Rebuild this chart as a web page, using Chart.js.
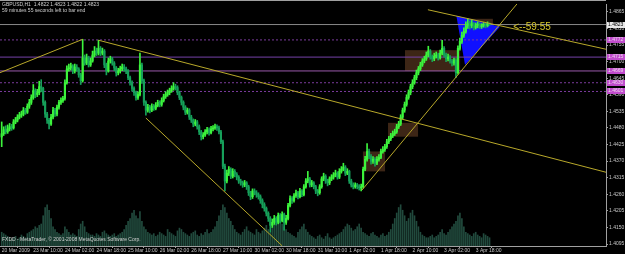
<!DOCTYPE html>
<html>
<head>
<meta charset="utf-8">
<script src="https://cdn.jsdelivr.net/npm/chart.js@4.4.1/dist/chart.umd.min.js"></script>
<style>
  html, body { margin: 0; padding: 0; background: #000; }
  #wrap { width: 625px; height: 254px; }
</style>
</head>
<body>
<div id="wrap"><canvas id="chart" width="625" height="254"></canvas></div>
<script>
// GBPUSD H1, one bar per hour, 20 Mar 2009 20:00 .. 3 Apr 2009
const FIRST_OPEN = 1.4450
const CLOSE = [
  1.4461,1.4474,1.4467,1.4477,1.4484,1.4480,1.4500,1.4506,1.4516,1.4523,
  1.4526,1.4539,1.4532,1.4552,1.4565,1.4581,1.4604,1.4591,1.4597,1.4617,
  1.4611,1.4565,1.4526,1.4506,1.4493,1.4516,1.4539,1.4526,1.4549,1.4565,
  1.4571,1.4578,1.4630,1.4676,1.4679,1.4686,1.4669,1.4682,1.4676,1.4656,
  1.4637,1.4712,1.4695,1.4712,1.4689,1.4702,1.4722,1.4735,1.4728,1.4744,
  1.4728,1.4735,1.4689,1.4669,1.4702,1.4709,1.4695,1.4679,1.4663,1.4669,
  1.4676,1.4682,1.4676,1.4669,1.4647,1.4630,1.4611,1.4597,1.4581,1.4591,
  1.4689,1.4637,1.4565,1.4539,1.4549,1.4539,1.4552,1.4545,1.4555,1.4565,
  1.4558,1.4571,1.4584,1.4591,1.4597,1.4604,1.4611,1.4617,1.4614,1.4597,
  1.4581,1.4565,1.4549,1.4532,1.4539,1.4516,1.4506,1.4493,1.4500,1.4484,
  1.4467,1.4451,1.4457,1.4467,1.4474,1.4464,1.4477,1.4480,1.4484,1.4480,
  1.4467,1.4434,1.4353,1.4304,1.4330,1.4343,1.4320,1.4336,1.4327,1.4317,
  1.4304,1.4298,1.4291,1.4298,1.4285,1.4265,1.4252,1.4271,1.4265,1.4259,
  1.4252,1.4239,1.4226,1.4213,1.4197,1.4180,1.4157,1.4167,1.4180,1.4167,
  1.4190,1.4173,1.4193,1.4167,1.4180,1.4223,1.4246,1.4239,1.4255,1.4265,
  1.4252,1.4271,1.4259,1.4285,1.4304,1.4311,1.4291,1.4298,1.4285,1.4271,
  1.4265,1.4285,1.4311,1.4320,1.4304,1.4298,1.4311,1.4317,1.4324,1.4330,
  1.4317,1.4336,1.4343,1.4350,1.4330,1.4336,1.4304,1.4291,1.4285,1.4291,
  1.4285,1.4281,1.4285,1.4343,1.4376,1.4402,1.4386,1.4369,1.4376,1.4363,
  1.4376,1.4382,1.4402,1.4408,1.4418,1.4434,1.4444,1.4454,1.4461,1.4467,
  1.4484,1.4493,1.4516,1.4539,1.4558,1.4581,1.4597,1.4617,1.4630,1.4647,
  1.4663,1.4676,1.4689,1.4702,1.4709,1.4722,1.4735,1.4715,1.4709,1.4718,
  1.4722,1.4712,1.4728,1.4744,1.4722,1.4709,1.4715,1.4702,1.4695,1.4705,
  1.4663,1.4744,1.4767,1.4787,1.4800,1.4819,1.4826,1.4819,1.4826,1.4813,
  1.4819,1.4823,1.4816,1.4819,1.4823,1.4819,1.4826,1.4823,
]
const HIGH = [
  1.4500,1.4484,1.4487,1.4490,1.4495,1.4492,1.4508,1.4515,1.4524,1.4532,
  1.4536,1.4548,1.4545,1.4560,1.4575,1.4590,1.4624,1.4610,1.4608,1.4635,
  1.4640,1.4615,1.4570,1.4532,1.4512,1.4525,1.4548,1.4545,1.4556,1.4572,
  1.4580,1.4585,1.4640,1.4686,1.4692,1.4695,1.4690,1.4692,1.4690,1.4680,
  1.4662,1.4774,1.4722,1.4725,1.4718,1.4712,1.4735,1.4750,1.4745,1.4771,
  1.4750,1.4745,1.4740,1.4695,1.4712,1.4718,1.4714,1.4700,1.4684,1.4678,
  1.4685,1.4692,1.4690,1.4682,1.4674,1.4652,1.4636,1.4616,1.4602,1.4600,
  1.4728,1.4695,1.4642,1.4570,1.4558,1.4555,1.4560,1.4558,1.4564,1.4572,
  1.4570,1.4580,1.4592,1.4600,1.4606,1.4612,1.4620,1.4630,1.4625,1.4620,
  1.4602,1.4586,1.4570,1.4554,1.4546,1.4544,1.4522,1.4510,1.4508,1.4505,
  1.4490,1.4472,1.4465,1.4475,1.4482,1.4480,1.4485,1.4488,1.4493,1.4490,
  1.4486,1.4472,1.4440,1.4360,1.4340,1.4352,1.4348,1.4345,1.4342,1.4332,
  1.4322,1.4310,1.4304,1.4306,1.4302,1.4290,1.4270,1.4278,1.4278,1.4272,
  1.4265,1.4258,1.4245,1.4232,1.4218,1.4202,1.4186,1.4178,1.4190,1.4186,
  1.4198,1.4196,1.4202,1.4198,1.4190,1.4230,1.4255,1.4252,1.4262,1.4274,
  1.4270,1.4280,1.4276,1.4292,1.4312,1.4336,1.4316,1.4306,1.4302,1.4290,
  1.4276,1.4292,1.4318,1.4330,1.4325,1.4310,1.4318,1.4325,1.4332,1.4340,
  1.4335,1.4345,1.4352,1.4363,1.4355,1.4345,1.4340,1.4310,1.4298,1.4298,
  1.4296,1.4292,1.4294,1.4350,1.4386,1.4428,1.4410,1.4392,1.4385,1.4382,
  1.4385,1.4392,1.4410,1.4418,1.4426,1.4442,1.4452,1.4462,1.4470,1.4476,
  1.4492,1.4502,1.4524,1.4546,1.4566,1.4590,1.4606,1.4625,1.4640,1.4655,
  1.4672,1.4684,1.4698,1.4710,1.4718,1.4732,1.4751,1.4740,1.4722,1.4728,
  1.4732,1.4728,1.4738,1.4771,1.4750,1.4728,1.4725,1.4720,1.4708,1.4712,
  1.4710,1.4752,1.4778,1.4798,1.4812,1.4832,1.4842,1.4835,1.4838,1.4830,
  1.4828,1.4832,1.4828,1.4826,1.4830,1.4828,1.4832,1.4828,
]
const LOW = [
  1.4418,1.4455,1.4460,1.4462,1.4470,1.4472,1.4476,1.4494,1.4500,1.4510,
  1.4515,1.4520,1.4525,1.4528,1.4545,1.4558,1.4575,1.4580,1.4584,1.4590,
  1.4600,1.4555,1.4515,1.4495,1.4477,1.4488,1.4510,1.4518,1.4520,1.4542,
  1.4558,1.4565,1.4572,1.4625,1.4668,1.4672,1.4660,1.4662,1.4668,1.4648,
  1.4624,1.4632,1.4688,1.4690,1.4682,1.4684,1.4698,1.4716,1.4720,1.4722,
  1.4720,1.4722,1.4680,1.4656,1.4665,1.4695,1.4688,1.4670,1.4652,1.4656,
  1.4662,1.4670,1.4668,1.4660,1.4640,1.4622,1.4602,1.4588,1.4572,1.4575,
  1.4586,1.4628,1.4555,1.4522,1.4532,1.4530,1.4534,1.4538,1.4540,1.4550,
  1.4550,1.4552,1.4566,1.4578,1.4585,1.4590,1.4598,1.4605,1.4606,1.4590,
  1.4574,1.4556,1.4540,1.4524,1.4526,1.4508,1.4498,1.4484,1.4487,1.4476,
  1.4458,1.4440,1.4444,1.4452,1.4460,1.4456,1.4460,1.4470,1.4475,1.4472,
  1.4460,1.4428,1.4345,1.4271,1.4298,1.4322,1.4312,1.4314,1.4318,1.4308,
  1.4296,1.4290,1.4283,1.4285,1.4276,1.4256,1.4242,1.4246,1.4258,1.4250,
  1.4244,1.4230,1.4215,1.4204,1.4188,1.4170,1.4135,1.4150,1.4160,1.4158,
  1.4162,1.4165,1.4168,1.4141,1.4160,1.4175,1.4218,1.4230,1.4234,1.4250,
  1.4245,1.4248,1.4252,1.4255,1.4280,1.4298,1.4284,1.4285,1.4278,1.4262,
  1.4255,1.4260,1.4280,1.4305,1.4296,1.4288,1.4292,1.4305,1.4310,1.4318,
  1.4310,1.4312,1.4330,1.4338,1.4322,1.4325,1.4296,1.4284,1.4278,1.4280,
  1.4278,1.4274,1.4271,1.4280,1.4338,1.4370,1.4378,1.4360,1.4362,1.4353,
  1.4358,1.4370,1.4378,1.4396,1.4402,1.4412,1.4428,1.4438,1.4448,1.4455,
  1.4462,1.4478,1.4488,1.4510,1.4532,1.4552,1.4575,1.4590,1.4610,1.4625,
  1.4640,1.4656,1.4670,1.4684,1.4696,1.4704,1.4716,1.4708,1.4700,1.4703,
  1.4712,1.4705,1.4708,1.4722,1.4715,1.4700,1.4702,1.4695,1.4686,1.4688,
  1.4647,1.4658,1.4738,1.4760,1.4780,1.4794,1.4810,1.4808,1.4812,1.4805,
  1.4808,1.4812,1.4810,1.4810,1.4814,1.4812,1.4815,1.4820,
]
const VOLUME = [
  100,90,80,70,60, 50,60,70,50,60,80,70,60,90,100, 110,120,140,130,150,160,
  220,280,300,260,200, 140,120,100,90,80,90,140,120,100,80,90,80,70,
  120,160,180,140,100,90,80, 80,70,90,80,70,100,110,90,80,70,80,90,70,80,90,
  100,120,150,180,200,240,260,220,200,250,180,140,120,100,90,
  80,90,70,80,100,90,80,70,120,100,90,80,70,110,130,120,100,90,80,70,90,100,110,80,70,90,80,100,120,90,
  100,120,140,180,220,260,300,280,240,200,180,150,120,100,90,80,100,120,140,110,
  100,90,80,120,100,90,110,130,150,120,100,140,160,180,200,180,160,140,120,100,90,
  80,70,60,100,120,140,160,120,100,80,70,60,50,70,80,60,50,70,90,60,50,60,70,80,
  90,100,120,140,160,150,130,110,120,140,160,130,100,90,80,70,90,100,80,70,60,80,90,70,80,
  100,120,160,200,240,280,300,260,220,180,200,240,260,220,180,140,100,80,70,60,
  60,70,80,60,70,80,100,120,90,80,100,120,140,160,180,220,240,200,140,100,
  90,80,70,90,100,80,70,60,90,80,70,60,
]
const TIME_TICKS = [0, 16, 32, 48, 64, 80, 96, 112, 128, 144, 160, 176, 192, 208, 224, 240]
const TIME_LABELS = [
  '20 Mar 2009', '23 Mar 10:00', '24 Mar 02:00', '24 Mar 18:00', '25 Mar 10:00',
  '26 Mar 02:00', '26 Mar 18:00', '27 Mar 10:00', '30 Mar 02:00', '30 Mar 18:00',
  '31 Mar 10:00', '1 Apr 02:00', '1 Apr 18:00', '2 Apr 10:00', '3 Apr 02:00', '3 Apr 18:00',
]
const PRICE_TICKS = [
  1.4095, 1.4150, 1.4205, 1.4260, 1.4315, 1.4370, 1.4425, 1.4480,
  1.4535, 1.4590, 1.4645, 1.4700, 1.4755, 1.4810, 1.4865,
]
const BID = 1.4823
const LEVELS = [1.4772, 1.4715, 1.4669, 1.4630, 1.4601]
// trend lines: [bar, price] pairs
const TRENDLINES = [
  [[-1, 1.4663], [41, 1.4774]],
  [[49, 1.4771], [306, 1.4333]],
  [[73, 1.4513], [142, 1.4089]],
  [[182.4, 1.4274], [262, 1.4900]],
  [[215.8, 1.4872], [306, 1.4741]],
]
// rectangles: [bar from, bar to, price top, price bottom]
const RECTS = [
  [204.2, 232.1, 1.4738, 1.4669],
  [236.1, 248.7, 1.4842, 1.4819],
  [195.6, 210.8, 1.4497, 1.4451],
  [182.9, 194.1, 1.4402, 1.4336],
]
const TRIANGLE = [[230.2, 1.4852], [252.3, 1.4816], [234.6, 1.4689]]
const COUNTDOWN = '<--59:55'

// view window
const X_MIN = -0.86
const X_MAX = 305.97
const Y_MIN = 1.40885
const Y_MAX = 1.48911

const FONT = 'Liberation Sans'
const UP = '#3cf43c'
const DOWN = '#16a05a'
const LEVEL_DASH = [[2, 2], [], [], [2, 2], [2, 2]]
const LEVEL_COLOR = ['#7a3a9c', '#7442a8', '#9a5aaa', '#7a3a9c', '#7a3a9c']

function buildCandles() {
  const wicks = []
  const bodies = []
  const colors = []
  CLOSE.forEach((close, i) => {
    const open = i === 0 ? FIRST_OPEN : CLOSE[i - 1]
    wicks.push({ x: i, y: [LOW[i], HIGH[i]] })
    bodies.push({ x: i, y: [open, close] })
    colors.push(close >= open ? UP : DOWN)
  })
  return { wicks, bodies, colors }
}

const overlay = {
  id: 'overlay',
  beforeDraw(chart) {
    const { ctx, width, height } = chart
    ctx.save()
    ctx.fillStyle = '#000'
    ctx.fillRect(0, 0, width, height)
    ctx.restore()
  },
  beforeDatasetsDraw(chart) {
    const { ctx, chartArea } = chart
    const x = chart.scales.x
    const y = chart.scales.y
    ctx.save()
    ctx.beginPath()
    ctx.rect(chartArea.left, chartArea.top, chartArea.width, chartArea.height)
    ctx.clip()
    ctx.fillStyle = '#3d2616'
    RECTS.forEach(([x0, x1, p0, p1]) => {
      const left = x.getPixelForValue(x0)
      const top = y.getPixelForValue(p0)
      ctx.fillRect(left, top, x.getPixelForValue(x1) - left, y.getPixelForValue(p1) - top)
    })
    ctx.fillStyle = '#1010ff'
    ctx.beginPath()
    TRIANGLE.forEach(([b, p], i) => {
      const px = x.getPixelForValue(b)
      const py = y.getPixelForValue(p)
      if (i === 0) ctx.moveTo(px, py)
      else ctx.lineTo(px, py)
    })
    ctx.closePath()
    ctx.fill()
    ctx.restore()
  },
  afterDraw(chart) {
    const { ctx, chartArea } = chart
    const x = chart.scales.x
    const y = chart.scales.y
    ctx.save()
    ctx.textBaseline = 'middle'
    ctx.textAlign = 'left'

    ctx.fillStyle = '#d0d0d0'
    ctx.font = `5px "${FONT}"`
    ctx.fillText('GBPUSD,H1  1.4822 1.4823 1.4822 1.4823', 2, 5)
    ctx.fillText('59 minutes 55 seconds left to bar end', 2, 11)
    ctx.fillText('FXDD - MetaTrader, \u00a9 2001-2008 MetaQuotes Software Corp.', 2, 240)

    ctx.fillStyle = '#d8c82c'
    ctx.font = `10px "${FONT}"`
    ctx.fillText(COUNTDOWN, x.getPixelForValue(259), y.getPixelForValue(BID) + 3)

    // price tags on the axis
    ctx.font = `5px "${FONT}"`
    LEVELS.forEach((level) => {
      const py = Math.round(y.getPixelForValue(level))
      ctx.fillStyle = '#c04ccc'
      ctx.fillRect(chartArea.right + 1, py - 3, 18, 6)
      ctx.fillStyle = '#f0d8f0'
      ctx.fillText(level.toFixed(4), chartArea.right + 2, py)
    })
    const by = Math.round(y.getPixelForValue(BID))
    ctx.fillStyle = '#e8e8e8'
    ctx.fillRect(chartArea.right + 1, by - 3, 18, 6)
    ctx.fillStyle = '#000'
    ctx.fillText(BID.toFixed(4), chartArea.right + 2, by)

    ctx.strokeStyle = '#a0a0a0'
    ctx.lineWidth = 1
    ctx.beginPath()
    ctx.moveTo(chartArea.left, 0.5)
    ctx.lineTo(chartArea.right, 0.5)
    ctx.stroke()
    ctx.restore()
  },
}

function lineDataset(points, color, dash, order) {
  return {
    type: 'line',
    data: points.map(([b, p]) => ({ x: b, y: p })),
    borderColor: color,
    borderWidth: 1,
    borderDash: dash,
    pointRadius: 0,
    fill: false,
    tension: 0,
    order,
  }
}

function initializeChart() {
  const canvas = document.getElementById('chart')
  const { wicks, bodies, colors } = buildCandles()

  const levelSets = LEVELS.map((level, i) =>
    lineDataset([[X_MIN, level], [X_MAX, level]], LEVEL_COLOR[i], LEVEL_DASH[i], 20))
  const bidSet = lineDataset([[X_MIN, BID], [X_MAX, BID]], '#888888', [], 20)
  const trendSets = TRENDLINES.map((pts) => lineDataset(pts, '#b8a82a', [], 1))

  return new Chart(canvas, {
    type: 'bar',
    data: {
      datasets: [
        {
          data: VOLUME.map((v, i) => ({ x: i, y: v })),
          yAxisID: 'yv',
          backgroundColor: '#214a3d',
          barThickness: 1,
          grouped: false,
          order: 15,
        },
        {
          data: wicks,
          backgroundColor: colors,
          barThickness: 1,
          grouped: false,
          order: 6,
        },
        {
          data: bodies,
          backgroundColor: colors,
          barThickness: 1.5,
          minBarLength: 1,
          grouped: false,
          order: 5,
        },
        ...levelSets,
        bidSet,
        ...trendSets,
      ],
    },
    options: {
      responsive: false,
      devicePixelRatio: 1,
      animation: false,
      layout: { padding: 0 },
      plugins: {
        legend: { display: false },
        tooltip: { enabled: false },
      },
      scales: {
        x: {
          type: 'linear',
          min: X_MIN,
          max: X_MAX,
          offset: false,
          afterBuildTicks: (scale) => {
            scale.ticks = TIME_TICKS.map((value) => ({ value }))
          },
          afterFit: (scale) => {
            scale.height = 8
          },
          ticks: {
            autoSkip: false,
            maxRotation: 0,
            align: 'start',
            padding: 0,
            color: '#c8c8c8',
            font: { family: FONT, size: 5 },
            callback: (value, index) => TIME_LABELS[index],
          },
          grid: { drawOnChartArea: false, tickLength: 2, color: '#a0a0a0' },
          border: { color: '#a0a0a0' },
        },
        y: {
          position: 'right',
          min: Y_MIN,
          max: Y_MAX,
          afterBuildTicks: (scale) => {
            scale.ticks = PRICE_TICKS.map((value) => ({ value }))
          },
          afterFit: (scale) => {
            scale.width = 19
          },
          ticks: {
            padding: 1,
            color: '#c8c8c8',
            font: { family: FONT, size: 5 },
            callback: (value) => value.toFixed(4),
          },
          grid: { drawOnChartArea: false, tickLength: 2, color: '#a0a0a0' },
          border: { color: '#a0a0a0' },
        },
        yv: {
          display: false,
          min: 0,
          max: 1760,
        },
      },
    },
    plugins: [overlay],
  })
}

initializeChart()
</script>
</body>
</html>
